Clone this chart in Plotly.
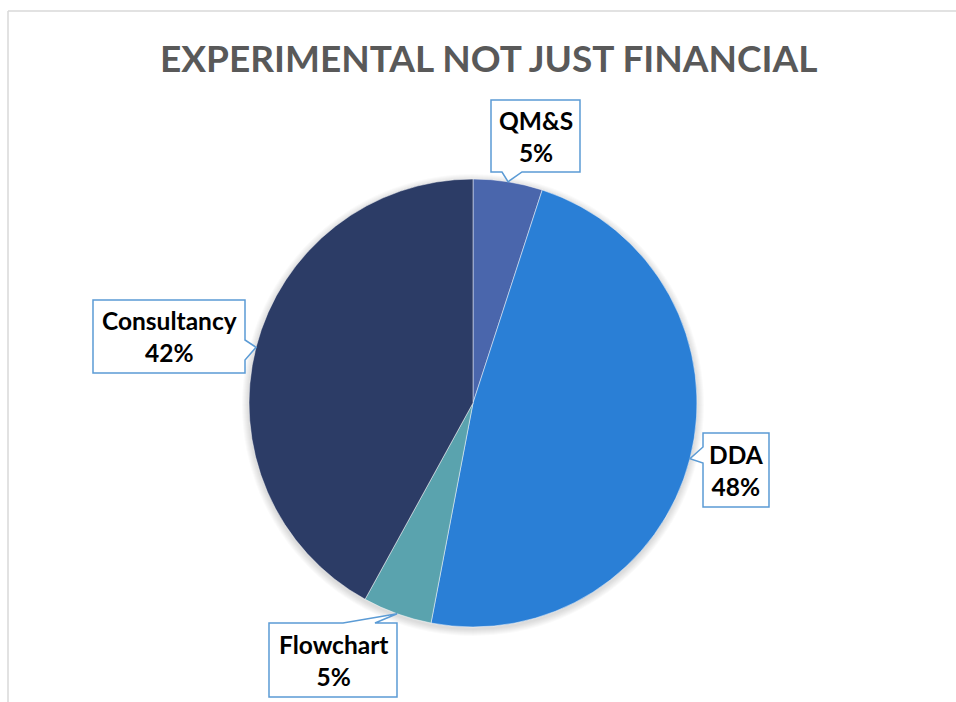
import math
import plotly.graph_objects as go

# Slice data
categories = ["QM&S", "DDA", "Flowchart", "Consultancy"]
values = [5, 48, 5, 42]
colors = ["#4a66ac", "#2a7fd6", "#5aa3ae", "#2c3c66"]

W, H = 956, 702
CX, CY, R = 473, 403, 224  # pie centre and radius, px

# Callout boxes (px): x0, y0, x1, y1, side of the tail, tail base along that side
callouts = {
    "QM&S": dict(box=(491, 100, 580, 172), side="bottom", base=(502, 522)),
    "DDA": dict(box=(703, 433, 769, 507), side="left", base=(447, 463)),
    "Flowchart": dict(box=(269, 623, 397, 697), side="top", base=(343, 375)),
    "Consultancy": dict(box=(93, 300, 245, 373), side="right", base=(340, 360)),
}


def px(x, y):
    return x / W, 1 - y / H


def tip_point(idx):
    total = sum(values)
    start = sum(values[:idx])
    mid = (start + values[idx] / 2) / total * 2 * math.pi
    return CX + R * math.sin(mid), CY - R * math.cos(mid)


def bubble_path(box, side, base, tip):
    x0, y0, x1, y1 = box
    b0, b1 = base
    tx, ty = tip
    pts = [(x0, y0)]
    if side == "top":
        pts += [(b0, y0), (tx, ty), (b1, y0)]
    pts.append((x1, y0))
    if side == "right":
        pts += [(x1, b0), (tx, ty), (x1, b1)]
    pts.append((x1, y1))
    if side == "bottom":
        pts += [(b1, y1), (tx, ty), (b0, y1)]
    pts.append((x0, y1))
    if side == "left":
        pts += [(x0, b1), (tx, ty), (x0, b0)]
    coords = [px(*p) for p in pts]
    return "M " + " L ".join(f"{a:.5f},{b:.5f}" for a, b in coords) + " Z"


fig = go.Figure(
    go.Pie(
        labels=categories,
        values=values,
        sort=False,
        direction="clockwise",
        rotation=0,
        marker=dict(colors=colors, line=dict(color="rgba(255,255,255,0.6)", width=0.8)),
        textinfo="none",
        hoverinfo="label+percent",
        showlegend=False,
        domain=dict(
            x=[(CX - R) / W, (CX + R) / W],
            y=[1 - (CY + R) / H, 1 - (CY - R) / H],
        ),
    )
)

shapes = []
# soft shadow around the pie
for k in range(1, 8):
    a0 = px(CX - R - k, CY - R - k + 2)
    a1 = px(CX + R + k, CY + R + k + 2)
    shapes.append(dict(type="circle", xref="paper", yref="paper",
                       x0=a0[0], y0=a1[1], x1=a1[0], y1=a0[1],
                       fillcolor="rgba(0,0,0,0.018)", line=dict(width=0), layer="below"))

# chart frame
fx, fy = px(8, 11)
shapes.append(dict(type="line", xref="paper", yref="paper", x0=fx, y0=fy, x1=1.02, y1=fy,
                   line=dict(color="#d9d9d9", width=1.5)))
shapes.append(dict(type="line", xref="paper", yref="paper", x0=fx, y0=fy, x1=fx, y1=-0.02,
                   line=dict(color="#d9d9d9", width=1.5)))

annotations = []
for i, (cat, val) in enumerate(zip(categories, values)):
    c = callouts[cat]
    tip = tip_point(i)
    shapes.append(dict(type="path", xref="paper", yref="paper",
                       path=bubble_path(c["box"], c["side"], c["base"], tip),
                       fillcolor="white", line=dict(color="#5b9bd5", width=1.5), layer="above"))
    x0, y0, x1, y1 = c["box"]
    cx, cy = px((x0 + x1) / 2, (y0 + y1) / 2)
    pct = round(val / sum(values) * 100)
    annotations.append(dict(x=cx, y=cy, xref="paper", yref="paper", showarrow=False,
                            xanchor="center", yanchor="middle",
                            text=f"<b>{cat}<br>{pct}%</b>", align="center",
                            font=dict(family="Lato", size=24.5, color="#000000")))

tx, ty = px(488, 58)
annotations.append(dict(x=tx, y=ty, xref="paper", yref="paper", showarrow=False,
                        xanchor="center", yanchor="middle",
                        text="<b>EXPERIMENTAL NOT JUST FINANCIAL</b>",
                        font=dict(family="Lato", size=37, color="#595959")))

fig.update_layout(
    width=W, height=H,
    margin=dict(l=0, r=0, t=0, b=0),
    paper_bgcolor="white",
    plot_bgcolor="white",
    shapes=shapes,
    annotations=annotations,
)

fig.write_html("out.html")
